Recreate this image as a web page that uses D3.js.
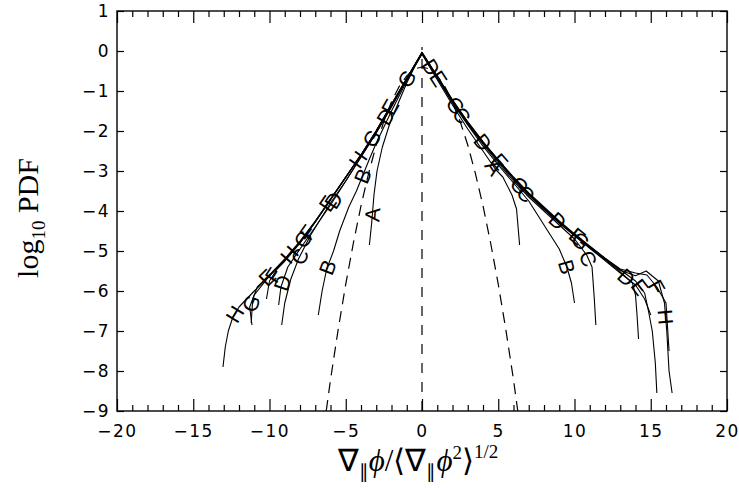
<!DOCTYPE html>
<html>
<head>
<meta charset="utf-8">
<script src="https://cdn.jsdelivr.net/npm/d3@7"></script>
<style>
  body { margin: 0; background: #fff; }
  .axis text { font-family: "DejaVu Sans", Arial, sans-serif; font-size: 17px; letter-spacing: 1.5px; fill: #000; }
  .axis line { stroke: #000; stroke-width: 1.2px; }
  .axis path { display: none; }
</style>
</head>
<body>
<svg width="739" height="488"></svg>
<script>
// log10 PDF curves (x, log10 PDF)
var curveA = [[-3.45,-4.85],[-3.3,-4.3],[-3.15,-3.6],[-2.95,-3.0],[-2.6,-2.4],[-2.1,-1.8],[-1.5,-1.25],[-1,-0.8],[-0.5,-0.4],[0,-0.08],
  [0.5,-0.4],[1,-0.72],[2,-1.35],[3,-1.95],[4,-2.5],[4.8,-2.95],[5.3,-3.15],[5.9,-3.6],[6.2,-3.95],[6.3,-4.4],[6.4,-4.85]];
var curveB = [[-6.8,-6.6],[-6.55,-6.0],[-6.25,-5.45],[-5.8,-5.0],[-5.4,-4.5],[-4.8,-3.9],[-4.3,-3.5],[-3.5,-2.75],[-3,-2.3],[-2,-1.5],[-1,-0.75],[0,-0.06],
  [1,-0.68],[2,-1.3],[3,-1.85],[4,-2.38],[5,-2.85],[6,-3.3],[7,-3.75],[8,-4.35],[9,-4.95],[9.5,-5.4],[9.8,-5.8],[10,-6.3]];
var curveC = [[-9.2,-6.85],[-9.0,-6.3],[-8.6,-5.7],[-8.1,-5.2],[-7.3,-4.6],[-6,-3.8],[-5,-3.25],[-4,-2.65],[-3,-2.05],[-2,-1.4],[-1,-0.72],[0,-0.05],
  [1,-0.66],[2,-1.27],[3,-1.83],[4,-2.33],[5,-2.8],[6,-3.25],[7,-3.65],[8,-4.0],[9,-4.35],[10,-4.7],[10.8,-5.1],[11.15,-5.4],[11.3,-6.2],[11.4,-6.85]];
var curveD = [[-9.4,-6.35],[-9.25,-5.9],[-8.8,-5.4],[-8,-4.95],[-7,-4.4],[-6,-3.85],[-5,-3.25],[-4,-2.65],[-3,-2.04],[-2,-1.38],[-1,-0.7],[0,-0.04],
  [1,-0.64],[2,-1.24],[3,-1.78],[4,-2.28],[5,-2.74],[6,-3.18],[7,-3.58],[8,-3.93],[9,-4.28],[10,-4.6],[11,-4.92],[12,-5.22],[13,-5.52],[13.8,-5.8],[14.0,-6.1],[14.1,-6.6],[14.2,-7.2]];
var curveE = [[-11.2,-6.8],[-11.1,-6.2],[-10.8,-5.9],[-10,-5.6],[-9,-5.2],[-8,-4.75],[-7,-4.25],[-6,-3.7],[-5,-3.15],[-4,-2.6],[-3,-1.99],[-2,-1.33],[-1,-0.68],[0,-0.03],
  [1,-0.63],[2,-1.22],[3,-1.77],[4,-2.27],[5,-2.72],[6,-3.15],[7,-3.55],[8,-3.9],[9,-4.25],[10,-4.57],[11,-4.88],[12,-5.18],[13,-5.47],[14,-5.75],[14.6,-6.05],[14.85,-6.5],[15.1,-7.0],[15.3,-7.8],[15.4,-8.55]];
var curveF = [[-10.2,-6.2],[-10.0,-5.75],[-9.5,-5.45],[-9,-5.25],[-8,-4.8],[-7,-4.27],[-6,-3.72],[-5,-3.16],[-4,-2.6],[-3,-2.0],[-2,-1.34],[-1,-0.69],[0,-0.04],
  [1,-0.64],[2,-1.23],[3,-1.78],[4,-2.27],[5,-2.73],[6,-3.17],[7,-3.57],[8,-3.92],[9,-4.27],[10,-4.58],[11,-4.88],[12,-5.18],[13,-5.45],[14,-5.55],[14.75,-5.6],[15.4,-5.9],[16.0,-6.3],[16.1,-6.9],[16.2,-7.5]];
var curveG = [[-11.15,-6.85],[-11.3,-6.4],[-11.0,-6.1],[-10,-5.62],[-9,-5.25],[-8,-4.8],[-7,-4.28],[-6,-3.72],[-5,-3.16],[-4,-2.6],[-3,-2.0],[-2,-1.34],[-1,-0.69],[0,-0.05],
  [1,-0.65],[2,-1.25],[3,-1.8],[4,-2.3],[5,-2.76],[6,-3.2],[7,-3.6],[8,-3.96],[9,-4.3],[10,-4.62],[11,-4.93],[12,-5.24],[13,-5.55],[14,-5.85],[14.6,-6.2],[15.0,-6.6]];
var curveH = [[-13.05,-7.9],[-12.9,-7.4],[-12.7,-7.0],[-12.4,-6.65],[-12,-6.4],[-11,-6.0],[-10,-5.62],[-9,-5.22],[-8,-4.78],[-7,-4.27],[-6,-3.71],[-5,-3.15],[-4,-2.6],[-3,-2.0],[-2,-1.35],[-1,-0.7],[0,-0.05],
  [1,-0.65],[2,-1.25],[3,-1.8],[4,-2.3],[5,-2.75],[6,-3.2],[7,-3.6],[8,-3.95],[9,-4.3],[10,-4.6],[11,-4.9],[12,-5.2],[13,-5.48],[14,-5.62],[14.7,-5.5],[15.5,-5.75],[15.9,-6.3],[16.05,-7.0],[16.2,-8.0],[16.4,-8.55]];

// gaussian reference (dashed)
var gaussX = [-6.28,-6,-5.5,-5,-4.5,-4,-3.5,-3,-2.5,-2,-1.5,-1,-0.5,0,0.5,1,1.5,2,2.5,3,3.5,4,4.5,5,5.5,6,6.28];
var gaussY = [-9.0,-8.22,-6.97,-5.83,-4.80,-3.87,-3.06,-2.35,-1.76,-1.27,-0.89,-0.62,-0.45,-0.40,-0.45,-0.62,-0.89,-1.27,-1.76,-2.35,-3.06,-3.87,-4.80,-5.83,-6.97,-8.22,-9.0];
var zeroLine = [[0,-9],[0,0.1]];

// curve labels: letter, position along the curve (point index)
var labelSpots = [
  ["A",1.3],["A",14.9],
  ["B",2.1],["B",6.5],["B",21],
  ["C",3.1],["C",13.6],["C",17.8],["C",22.3],
  ["D",1.2],["D",5.2],["D",8.6],["D",11.6],["D",15],["D",19.9],["D",24.5],
  ["E",2.8],["E",6.8],["E",10.9],["E",14.1],["E",18.1],["E",23.2],["E",27.5],
  ["F",1.5],["F",4.5],["F",28],
  ["G",1.3],["G",5.2],["G",9.7],["G",12],["G",15.2],["G",19.4],["G",23.4],
  ["H",3.3],["H",7.3],["H",11.8],["H",33.5]
];

var xMajor = [-20,-15,-10,-5,0,5,10,15,20];
var yTicks = [-9,-8,-7,-6,-5,-4,-3,-2,-1,0,1];

var curves = {A: curveA, B: curveB, C: curveC, D: curveD, E: curveE, F: curveF, G: curveG, H: curveH};

var svg = d3.select("svg");
var x = d3.scaleLinear().domain([-20, 20]).range([117, 727]);
var y = d3.scaleLinear().domain([-9, 1]).range([411, 11]);

var line = d3.line().x(function(d) { return x(d[0]); }).y(function(d) { return y(d[1]); });

var plot = svg.append("g");

plot.append("path")
  .datum(gaussX.map(function(v, i) { return [v, gaussY[i]]; }))
  .attr("d", line)
  .attr("fill", "none").attr("stroke", "#000").attr("stroke-width", 1.2)
  .attr("stroke-dasharray", "11,7");

plot.append("path")
  .datum(zeroLine)
  .attr("d", line)
  .attr("fill", "none").attr("stroke", "#000").attr("stroke-width", 1.2)
  .attr("stroke-dasharray", "10,9");

Object.keys(curves).forEach(function(k) {
  plot.append("path")
    .datum(curves[k])
    .attr("d", line)
    .attr("fill", "none")
    .attr("stroke", "#000")
    .attr("stroke-width", 1.1)
    .attr("stroke-linejoin", "round");
});

// letters sit on their curve, turned along it
plot.selectAll("text.lab")
  .data(labelSpots)
  .enter().append("text")
    .attr("class", "lab")
    .attr("transform", function(d) {
      var pts = curves[d[0]], i = Math.floor(d[1]), f = d[1] - i;
      var p0 = pts[i], p1 = pts[Math.min(i + 1, pts.length - 1)];
      if (p0 === p1) { p1 = p0; p0 = pts[i - 1]; f = 1; }
      var x0 = x(p0[0]), y0 = y(p0[1]), x1 = x(p1[0]), y1 = y(p1[1]);
      var px = x0 + (x1 - x0) * f, py = y0 + (y1 - y0) * f;
      var a = Math.atan2(y1 - y0, x1 - x0) * 180 / Math.PI;
      if (a > 90) a -= 180;
      if (a < -90) a += 180;
      return "translate(" + px + "," + py + ") rotate(" + a + ")";
    })
    .attr("text-anchor", "middle")
    .attr("dy", "0.36em")
    .attr("font-family", "Liberation Sans, Arial, sans-serif")
    .attr("font-size", 21)
    .text(function(d) { return d[0]; });

// axes, ticks pointing inwards
var xMinor = d3.range(-20, 21, 1).filter(function(v) { return v % 5 !== 0; });

svg.append("g").attr("class", "axis")
  .attr("transform", "translate(0,411)")
  .call(d3.axisBottom(x).tickValues(xMajor).tickSize(-12).tickPadding(14));
svg.append("g").attr("class", "axis")
  .attr("transform", "translate(0,411)")
  .call(d3.axisBottom(x).tickValues(xMinor).tickSize(-6).tickFormat(""));
svg.append("g").attr("class", "axis")
  .attr("transform", "translate(0,11)")
  .call(d3.axisTop(x).tickValues(xMajor).tickSize(-12).tickFormat(""));
svg.append("g").attr("class", "axis")
  .attr("transform", "translate(0,11)")
  .call(d3.axisTop(x).tickValues(xMinor).tickSize(-6).tickFormat(""));
svg.append("g").attr("class", "axis")
  .attr("transform", "translate(117,0)")
  .call(d3.axisLeft(y).tickValues(yTicks).tickSize(-7).tickPadding(7));
svg.append("g").attr("class", "axis")
  .attr("transform", "translate(727,0)")
  .call(d3.axisRight(y).tickValues(yTicks).tickSize(-7).tickFormat(""));

svg.append("rect")
  .attr("x", 117).attr("y", 11).attr("width", 610).attr("height", 400)
  .attr("fill", "none").attr("stroke", "#000").attr("stroke-width", 1.4);

// axis titles
var xt = svg.append("text")
  .attr("x", 418).attr("y", 471)
  .attr("text-anchor", "middle")
  .attr("fill", "#000")
  .attr("font-family", "Liberation Serif, Times New Roman, serif")
  .attr("font-size", 31);
xt.append("tspan").text("\u2207");
xt.append("tspan").attr("font-size", 19).attr("dy", 7).text("\u2225");
xt.append("tspan").attr("font-style", "italic").attr("dy", -7).text("\u03d5");
xt.append("tspan").text("/\u27e8\u2207");
xt.append("tspan").attr("font-size", 19).attr("dy", 7).text("\u2225");
xt.append("tspan").attr("font-style", "italic").attr("dy", -7).text("\u03d5");
xt.append("tspan").attr("font-size", 19).attr("dy", -12).text("2");
xt.append("tspan").attr("dy", 12).text("\u27e9");
xt.append("tspan").attr("font-size", 19).attr("dy", -13).text("1/2");

var yt = svg.append("text")
  .attr("transform", "translate(38,218) rotate(-90)")
  .attr("text-anchor", "middle")
  .attr("font-family", "Liberation Serif, Times New Roman, serif")
  .attr("font-size", 30);
yt.append("tspan").text("log");
yt.append("tspan").attr("font-size", 19).attr("dy", 7).text("10");
yt.append("tspan").attr("dy", -7).text("\u00a0PDF");
</script>
</body>
</html>
